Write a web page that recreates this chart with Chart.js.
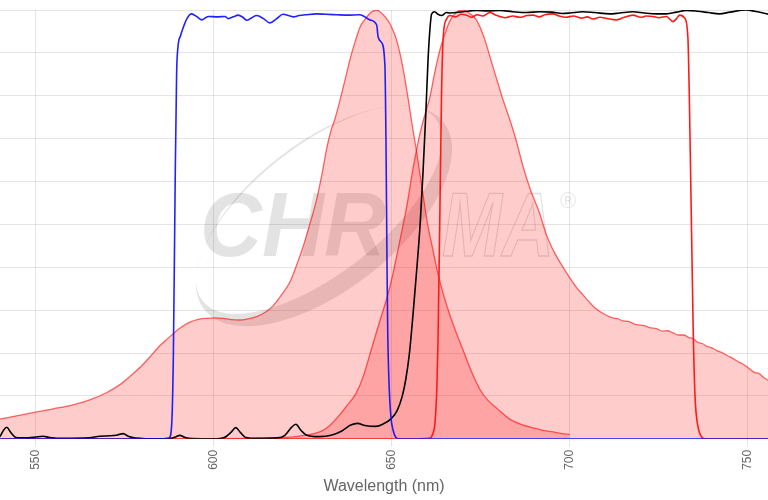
<!DOCTYPE html>
<html>
<head>
<meta charset="utf-8">
<script src="https://cdn.jsdelivr.net/npm/chart.js@4.4.1/dist/chart.umd.min.js"></script>
<style>
  body { margin: 0; padding: 0; background: #fff; }
  #wrap { width: 768px; height: 500px; }
</style>
</head>
<body>
<div id="wrap"><canvas id="spectra" width="768" height="500"></canvas></div>
<script>
/* ── Data (wavelength nm / % transmission) ── */
var xTicks = [550, 600, 650, 700, 750];

// excitation filter (blue)
var exFilterWl  = [540, 586, 587.5, 588.2, 588.7, 589.2, 589.6, 590, 590.7, 591.5, 592.5, 593.8, 595.2, 596.6, 598.5, 601, 603.2, 604.1, 605.5, 606.9, 608.2, 609.3, 610.7, 612.1, 614, 615.8, 617.7, 619.5, 621, 622.3, 624, 626, 628.9, 631.5, 634.5, 637.5, 641.1, 643.9, 645.8, 646.2, 647.1, 648.1, 648.4, 648.7, 648.9, 649.3, 649.8, 650.4, 651.2, 652, 756];
var exFilterVal = [0, 0, 0.2, 3, 20, 60, 85, 91.5, 94, 96, 98, 99.1, 98.5, 97.7, 98.5, 98.4, 98.5, 98, 98.4, 98.8, 98.3, 97.6, 98.2, 98.7, 98, 97, 98, 99, 98.7, 98.4, 98.7, 98.9, 99.1, 99, 98.9, 98.8, 98.9, 97.7, 96.5, 93.7, 92.5, 87.2, 70, 40, 25, 12, 5, 2, 0.3, 0, 0];

// dichroic (black)
var dichroicWl  = [540, 541, 541.9, 543, 544.5, 548, 550, 552, 554, 558, 565, 568, 571, 573, 574.6, 576, 578, 585, 588, 589.5, 590.5, 592, 594, 600, 603, 605, 606.2, 607.5, 609, 612, 618, 620, 621.8, 623.1, 624.5, 626, 629.6, 633, 636, 638.5, 640.4, 642.5, 645.6, 647.5, 649.9, 651.5, 653, 654, 655, 656, 657, 658, 658.8, 659.6, 660.2, 660.7, 661.2, 662.1, 663, 664, 665.4, 666.3, 670, 673.8, 677, 680.4, 684, 687.9, 691.6, 695, 698, 700, 703.7, 707, 711.3, 714, 717.8, 721, 724.4, 727.2, 730, 732.8, 736, 739, 742.1, 745, 749.6, 752, 756];
var dichroicVal = [0.5, 2.0, 2.7, 1.5, 0.3, 0.2, 0.4, 0.6, 0.3, 0.1, 0.2, 0.6, 0.7, 0.9, 1.2, 0.6, 0.2, 0, 0.1, 0.5, 0.8, 0.3, 0.05, 0, 0.3, 1.6, 2.6, 1.5, 0.3, 0.1, 0.2, 0.8, 2.6, 3.4, 2.0, 0.9, 0.5, 0.8, 1.8, 3.2, 3.6, 3.1, 2.9, 3.4, 4.7, 6.5, 10, 14, 20, 29, 39, 50, 62, 76, 88, 95, 99, 99.6, 99, 98.7, 99.4, 99.3, 99.6, 99.9, 99.8, 99.9, 99.6, 99.4, 99.6, 99.5, 99.2, 99.3, 99.6, 99.4, 99.1, 99.3, 99.6, 99.3, 99.1, 99.1, 99.5, 99.9, 99.7, 99.4, 99.1, 99.5, 100, 99.7, 99];

// emission filter (red)
var emFilterWl  = [540, 600, 658, 660.5, 661.5, 662.2, 662.7, 663, 663.5, 664, 664.5, 665.5, 666.3, 668, 669.5, 671, 672.5, 674, 675.5, 677.6, 679, 680.4, 682, 684, 686, 688, 689.7, 691.5, 693, 695.3, 697, 699, 701, 703.3, 705, 706.5, 708.5, 710.5, 713.1, 715, 717.8, 720, 721.5, 723.4, 725, 727.2, 728.2, 729, 730, 730.9, 732.3, 733.2, 733.6, 734, 734.3, 734.7, 735.2, 736, 737, 738, 756];
var emFilterVal = [0, 0, 0, 0.1, 1, 4, 12, 22, 50, 80, 94, 98, 98.7, 98.4, 99, 98.8, 98.3, 98.9, 98.6, 99.4, 98.9, 98.5, 98.2, 98.6, 98.3, 98.7, 98.8, 98.4, 98.9, 99.1, 98.6, 98.3, 98.6, 98.1, 98.4, 97.9, 98.3, 98.0, 97.7, 98.2, 98.8, 98.3, 98.6, 98.5, 98.2, 98.5, 97.8, 97.3, 98, 98.8, 98.1, 93.6, 80, 60, 45, 25, 10, 3, 0.5, 0, 0];

// dye excitation spectrum
var dyeExWl  = [540, 545, 550, 555, 560, 565, 570, 574, 577.4, 580, 582, 585, 587, 590.5, 593.3, 596, 598, 600, 602.7, 605, 607.4, 609.3, 612.1, 614.5, 616.7, 619, 621.4, 623.3, 625.2, 627, 628.9, 630.5, 631.7, 633, 634, 635.5, 637, 638.3, 639.7, 641.1, 642.5, 644, 645.8, 647.5, 649, 650, 651.2, 652.3, 653.5, 654.6, 655.6, 657, 658.8, 660, 661.6, 663, 664.5, 666.3, 668.2, 670.1, 672.5, 674.8, 677, 680, 683.5, 687, 690, 693, 696, 698, 700];
var dyeExVal = [4.6, 5.4, 6.2, 7.0, 7.8, 9.0, 10.8, 12.8, 15.2, 17.2, 19, 21.8, 23.3, 25.8, 27.2, 27.9, 28.1, 28.2, 28.1, 27.8, 27.7, 27.9, 28.5, 29.5, 31, 33.5, 36.5, 40.5, 45, 50, 55.7, 62, 67.5, 72, 74.4, 79, 84, 88.5, 92.5, 96, 97.8, 99.3, 100, 99, 97.5, 96, 93.5, 90, 85, 79.5, 74, 67, 57, 50.5, 44, 38.5, 33.8, 29, 24.6, 20.6, 15.5, 11.5, 9, 6.8, 4.4, 3.2, 2.5, 1.9, 1.5, 1.2, 1.0];

// dye emission spectrum
var dyeEmWl  = [600, 610, 616, 620, 623, 627, 630.6, 633, 635.2, 637.5, 640, 642, 644.2, 646.5, 649.5, 652, 654.2, 656, 657.9, 659.3, 660.7, 662, 663.5, 665, 666.3, 668, 669.7, 671.5, 673.8, 676, 678, 680, 681.3, 683.2, 685, 686.9, 689, 691.6, 693.5, 695.8, 698, 700, 702, 703.8, 705.6, 707, 708.8, 710.3, 712, 713.5, 715, 716.5, 718, 719.7, 721, 722.5, 724.4, 726, 727.5, 729, 730.5, 732, 733.5, 734.6, 736, 737.5, 738.4, 740, 741.5, 743, 744.5, 745.9, 747.5, 748.5, 749.3, 750.5, 752.1, 753, 754.5, 756];
var dyeEmVal = [0, 0.1, 0.2, 0.3, 0.5, 1.0, 1.9, 3.4, 5.4, 7.8, 10.6, 14.5, 20.6, 27, 35.4, 45, 54, 63, 71, 75.5, 79.5, 85, 90.5, 94.5, 97.4, 99.3, 100, 99.4, 97.7, 93.5, 88, 82.5, 79, 74.4, 69.5, 63.5, 58, 52.5, 47.5, 43.3, 40.2, 37.6, 35.2, 33.5, 31.8, 30.6, 29.5, 28.8, 28.2, 28, 27.5, 27.4, 26.8, 26.5, 26.4, 25.9, 25.7, 25.1, 25.2, 24.7, 24.2, 24.2, 23.6, 23.4, 22.5, 22.1, 21.6, 21.2, 20.5, 20, 19.3, 18.7, 17.9, 17.5, 17.1, 16.3, 15.4, 15.3, 14.3, 13.5];

function toPoints(xs, ys) {
  return xs.map(function(x, i) { return { x: x, y: ys[i] }; });
}

/* ── Chroma watermark behind the curves ── */
var watermark = {
  id: 'watermark',
  beforeDatasetsDraw: function(chart) {
    var ctx = chart.ctx;
    ctx.save();
    ctx.fillStyle = 'rgba(0,0,0,0.11)';
    ctx.strokeStyle = 'rgba(0,0,0,0.13)';

    // swoosh: crescent from two offset ellipses
    var rot = -38 * Math.PI / 180;
    var cx = 324, cy = 216;
    ctx.beginPath();
    ctx.ellipse(cx, cy, 152, 74, rot, 0, Math.PI * 2);
    ctx.ellipse(cx - 8 * 0.616, cy - 8 * 0.788, 148, 64, rot, 0, Math.PI * 2);
    ctx.fill('evenodd');

    // CHR filled
    ctx.font = 'italic bold 91px "Liberation Sans", Arial, sans-serif';
    ctx.textBaseline = 'alphabetic';
    var w = ctx.measureText('CHR').width;
    ctx.save();
    ctx.translate(200, 256);
    ctx.scale(186 / w, 1);
    ctx.fillText('CHR', 0, 0);
    ctx.restore();

    // MA outlined
    var w2 = ctx.measureText('MA').width;
    ctx.save();
    ctx.translate(442, 256);
    ctx.scale(112 / w2, 1);
    ctx.lineWidth = 1.4;
    ctx.strokeText('MA', 0, 0);
    ctx.restore();

    ctx.font = '22px "Liberation Sans", Arial, sans-serif';
    ctx.fillStyle = 'rgba(0,0,0,0.1)';
    ctx.fillText('\u00AE', 560, 208);
    ctx.restore();
  }
};

var lineCommon = { pointRadius: 0, fill: false, cubicInterpolationMode: 'monotone' };

function lineSet(label, pts, color, width) {
  return Object.assign({ label: label, data: pts, borderColor: color, borderWidth: width }, lineCommon);
}

var datasets = [
  lineSet('Excitation filter', toPoints(exFilterWl, exFilterVal), 'rgba(10,10,255,0.9)', 1.6),
  lineSet('Dichroic', toPoints(dichroicWl, dichroicVal), '#000000', 1.6),
  lineSet('Emission filter', toPoints(emFilterWl, emFilterVal), '#ff1a1a', 1.6),
  {
    label: 'Emission', data: toPoints(dyeEmWl, dyeEmVal),
    borderColor: 'rgba(255,0,0,0.6)', backgroundColor: 'rgba(255,0,0,0.2)',
    borderWidth: 1.3, fill: 'origin', pointRadius: 0, cubicInterpolationMode: 'monotone'
  },
  {
    label: 'Excitation', data: toPoints(dyeExWl, dyeExVal),
    borderColor: 'rgba(255,0,0,0.6)', backgroundColor: 'rgba(255,0,0,0.2)',
    borderWidth: 1.3, fill: 'origin', pointRadius: 0, cubicInterpolationMode: 'monotone'
  }
];

new Chart(document.getElementById('spectra').getContext('2d'), {
  type: 'line',
  data: { datasets: datasets },
  options: {
    responsive: false,
    animation: false,
    layout: { padding: { top: 10, bottom: 0, left: 0, right: 0 } },
    plugins: { legend: { display: false }, tooltip: { enabled: false } },
    scales: {
      x: {
        type: 'linear',
        min: 540,
        max: 755.7,
        afterBuildTicks: function(axis) {
          axis.ticks = xTicks.map(function(v) { return { value: v }; });
        },
        ticks: { minRotation: 90, maxRotation: 90, color: '#666', font: { size: 12 } },
        grid: { color: 'rgba(0,0,0,0.1)' },
        title: { display: true, text: 'Wavelength (nm)', color: '#666', font: { size: 16 } }
      },
      y: {
        min: 0,
        max: 100,
        ticks: { display: false, stepSize: 10 },
        grid: { color: 'rgba(0,0,0,0.1)', drawTicks: false },
        border: { display: false }
      }
    }
  },
  plugins: [watermark]
});
</script>
</body>
</html>
